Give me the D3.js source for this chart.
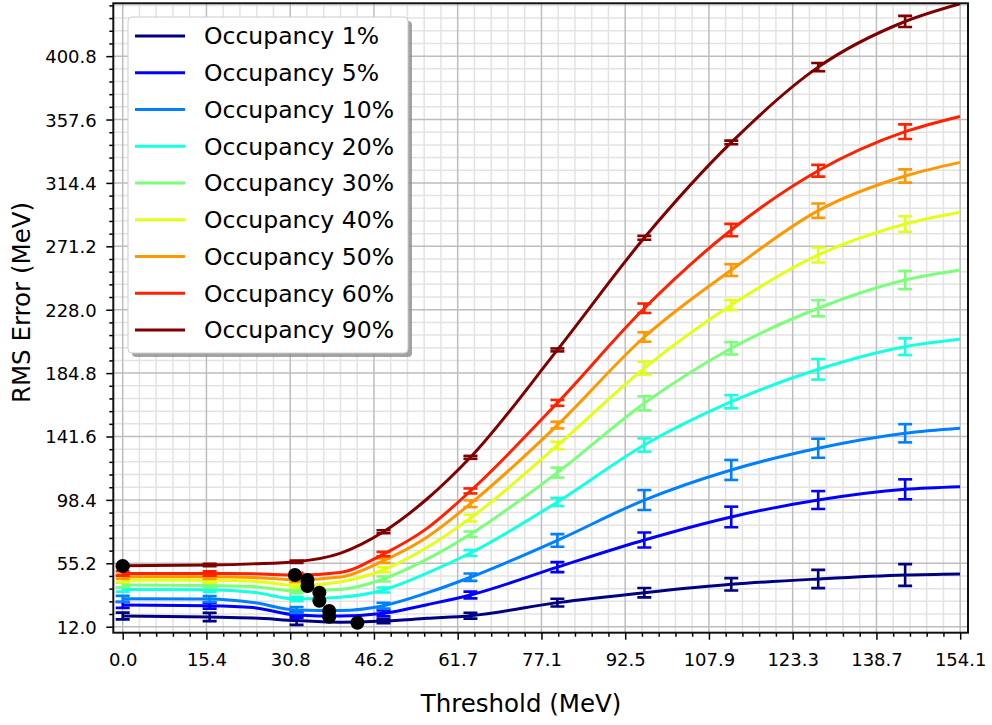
<!DOCTYPE html>
<html>
<head>
<meta charset="utf-8">
<script src="https://cdn.jsdelivr.net/npm/d3@7"></script>
<style>
body { margin: 0; background: #fff; }
text { font-family: "DejaVu Sans", sans-serif; fill: #000; }
</style>
</head>
<body>
<div id="chart"></div>
<script>
var thresholds = [0, 16, 24, 32, 40, 48, 56, 64, 80, 96, 112, 128, 144, 154.1];
var occupancies = ["1%", "5%", "10%", "20%", "30%", "40%", "50%", "60%", "90%"];

var rms1  = [19.3, 18.6, 17.9, 16.2, 15.0, 15.8, 17.7, 19.5, 28.4, 35.2, 40.9, 44.5, 47.2, 47.9];
var rms5  = [26.8, 26.3, 25.0, 20.0, 19.2, 21.1, 27.0, 33.6, 52.6, 71.1, 86.8, 98.3, 105.6, 107.4];
var rms10 = [31.0, 30.8, 28.5, 23.4, 23.0, 26.3, 35.0, 45.7, 70.8, 98.3, 118.8, 133.6, 143.8, 147.2];
var rms20 = [37.4, 37.2, 35.5, 30.8, 32.0, 37.0, 48.5, 62.2, 97.0, 135.8, 165.3, 187.4, 202.8, 207.8];
var rms30 = [40.4, 40.1, 39.3, 36.3, 37.3, 44.5, 58.0, 75.0, 117.0, 164.2, 201.7, 229.0, 248.2, 255.0];
var rms40 = [43.8, 43.6, 43.0, 40.0, 42.5, 50.8, 66.0, 86.0, 135.5, 188.2, 231.2, 265.3, 286.4, 294.4];
var rms50 = [46.1, 46.0, 45.6, 44.0, 45.8, 57.0, 73.0, 95.8, 149.4, 209.4, 255.0, 295.5, 319.1, 328.4];
var rms60 = [48.3, 48.2, 48.0, 47.2, 49.0, 61.5, 79.0, 104.5, 164.5, 229.0, 282.3, 322.7, 349.3, 359.7];
var rms90 = [53.5, 54.0, 54.8, 56.3, 62.0, 76.7, 99.0, 127.4, 200.6, 277.0, 342.0, 393.3, 424.4, 436.5];

// error bars every 16 MeV
var errThresholds = [0, 16, 32, 48, 64, 80, 96, 112, 128, 144];
var err1  = [2.3, 2.8, 3.0, 1.5, 2.0, 2.6, 3.2, 4.2, 6.2, 7.4];
var err5  = [2.0, 2.0, 2.0, 2.0, 2.3, 3.4, 5.1, 7.0, 6.1, 6.8];
var err10 = [2.0, 2.0, 2.0, 2.0, 2.5, 4.3, 6.8, 6.8, 6.5, 6.2];
var err20 = [1.5, 1.5, 1.5, 1.7, 2.0, 2.8, 4.5, 4.5, 7.0, 5.7];
var err30 = [1.5, 1.5, 1.5, 1.7, 1.9, 3.4, 4.8, 4.2, 5.5, 6.2];
var err40 = [1.5, 1.5, 1.5, 1.7, 2.3, 2.5, 4.4, 3.4, 5.1, 5.3];
var err50 = [1.5, 1.5, 1.5, 1.5, 2.3, 2.3, 3.2, 4.0, 4.9, 4.5];
var err60 = [1.5, 1.5, 1.5, 1.5, 1.7, 2.0, 3.2, 4.2, 4.0, 5.0];
var err90 = [0.8, 0.8, 0.8, 1.0, 1.0, 1.0, 1.3, 1.2, 2.8, 3.8];

// minimum of each curve
var minThreshold = [43.2, 38.0, 38.0, 36.2, 36.2, 34.0, 34.0, 31.7, 0.0];
var minRms = [14.7, 18.8, 22.7, 29.7, 35.2, 39.7, 43.8, 47.2, 53.4];

var xTicks = [0, 15.41, 30.83, 46.24, 61.65, 77.07, 92.48, 107.89, 123.3, 138.72, 154.13];
var xTickLabels = ["0.0", "15.4", "30.8", "46.2", "61.7", "77.1", "92.5", "107.9", "123.3", "138.7", "154.1"];
var yTicks = [12.0, 55.2, 98.4, 141.6, 184.8, 228.0, 271.2, 314.4, 357.6, 400.8];
var yTickLabels = ["12.0", "55.2", "98.4", "141.6", "184.8", "228.0", "271.2", "314.4", "357.6", "400.8"];

var rmsSeries = [rms1, rms5, rms10, rms20, rms30, rms40, rms50, rms60, rms90];
var errSeries = [err1, err5, err10, err20, err30, err40, err50, err60, err90];

var width = 992, height = 725;
var pLeft = 113.3, pRight = 968, pTop = 3.3, pBottom = 632.7;

var svg = d3.select("#chart").append("svg")
    .attr("width", width).attr("height", height);

var x = d3.scaleLinear().domain([-1.73, 155.57]).range([pLeft, pRight]);
var y = d3.scaleLinear().domain([7.9, 436.8]).range([pBottom, pTop]);

// matplotlib jet colormap
var jetR = d3.scaleLinear().domain([0, 0.35, 0.66, 0.89, 1]).range([0, 0, 1, 1, 0.5]);
var jetG = d3.scaleLinear().domain([0, 0.125, 0.375, 0.64, 0.91, 1]).range([0, 0, 1, 1, 0, 0]);
var jetB = d3.scaleLinear().domain([0, 0.11, 0.34, 0.65, 1]).range([0.5, 1, 1, 0, 0]);
function jet(t) {
  return d3.rgb(jetR(t) * 255, jetG(t) * 255, jetB(t) * 255).formatHex();
}
var colors = occupancies.map(function(d, i) { return jet(i / (occupancies.length - 1)); });

// minor tick positions
var xMinor = [];
for (var i = 0; i < xTicks.length - 1; i++) {
  var step = (xTicks[i + 1] - xTicks[i]) / 5;
  for (var k = 1; k < 5; k++) xMinor.push(xTicks[i] + k * step);
}
var yStep = (yTicks[1] - yTicks[0]) / 5;
var yMinor = d3.range(yTicks[0], 436.8, yStep).filter(function(v, k) { return k % 5 != 0; });

svg.append("clipPath").attr("id", "plotclip").append("rect")
    .attr("x", pLeft).attr("y", pTop).attr("width", pRight - pLeft).attr("height", pBottom - pTop);

var grid = svg.append("g").attr("clip-path", "url(#plotclip)");
grid.selectAll(".vminor").data(xMinor).enter().append("line")
    .attr("x1", x).attr("x2", x).attr("y1", pTop).attr("y2", pBottom)
    .attr("stroke", "#e3e3e3").attr("stroke-width", 1.5);
grid.selectAll(".hminor").data(yMinor).enter().append("line")
    .attr("y1", y).attr("y2", y).attr("x1", pLeft).attr("x2", pRight)
    .attr("stroke", "#e3e3e3").attr("stroke-width", 1.5);
grid.selectAll(".vmajor").data(xTicks).enter().append("line")
    .attr("x1", x).attr("x2", x).attr("y1", pTop).attr("y2", pBottom)
    .attr("stroke", "#bdbdbd").attr("stroke-width", 1.5);
grid.selectAll(".hmajor").data(yTicks).enter().append("line")
    .attr("y1", y).attr("y2", y).attr("x1", pLeft).attr("x2", pRight)
    .attr("stroke", "#bdbdbd").attr("stroke-width", 1.5);

var line = d3.line()
    .x(function(d) { return x(d[0]); })
    .y(function(d) { return y(d[1]); })
    .curve(d3.curveMonotoneX);

var plot = svg.append("g").attr("clip-path", "url(#plotclip)");
rmsSeries.forEach(function(rms, s) {
  var pts = thresholds.map(function(t, i) { return [t, rms[i]]; });
  var g = plot.append("g");
  g.append("path").datum(pts)
      .attr("d", line)
      .attr("fill", "none")
      .attr("stroke", colors[s])
      .attr("stroke-width", 3);

  var bars = errThresholds.map(function(t, j) {
    return { t: t, v: rms[thresholds.indexOf(t)], e: errSeries[s][j] };
  });
  var eb = g.selectAll(".eb").data(bars).enter().append("g")
      .attr("stroke", colors[s]).attr("stroke-width", 2.6);
  eb.append("line")
      .attr("x1", function(d) { return x(d.t); }).attr("x2", function(d) { return x(d.t); })
      .attr("y1", function(d) { return y(d.v - d.e); }).attr("y2", function(d) { return y(d.v + d.e); });
  eb.append("line")
      .attr("x1", function(d) { return x(d.t) - 7; }).attr("x2", function(d) { return x(d.t) + 7; })
      .attr("y1", function(d) { return y(d.v - d.e); }).attr("y2", function(d) { return y(d.v - d.e); });
  eb.append("line")
      .attr("x1", function(d) { return x(d.t) - 7; }).attr("x2", function(d) { return x(d.t) + 7; })
      .attr("y1", function(d) { return y(d.v + d.e); }).attr("y2", function(d) { return y(d.v + d.e); });
});

plot.selectAll(".minpt").data(minRms).enter().append("circle")
    .attr("cx", function(d, i) { return x(minThreshold[i]); })
    .attr("cy", function(d) { return y(d); })
    .attr("r", 7)
    .attr("fill", "#000");

// axes
var xAxis = svg.append("g").attr("transform", "translate(0," + pBottom + ")")
    .call(d3.axisBottom(x).tickValues(xTicks).tickSize(7).tickSizeOuter(0)
      .tickFormat(function(d, i) { return xTickLabels[i]; }));
xAxis.append("g").call(d3.axisBottom(x).tickValues(xMinor).tickSize(4).tickFormat(""));
var yAxis = svg.append("g").attr("transform", "translate(" + pLeft + ",0)")
    .call(d3.axisLeft(y).tickValues(yTicks).tickSize(7).tickSizeOuter(0)
      .tickFormat(function(d, i) { return yTickLabels[i]; }));
yAxis.append("g").call(d3.axisLeft(y).tickValues(yMinor).tickSize(4).tickFormat(""));

svg.selectAll(".domain").remove();
svg.selectAll(".tick line").attr("stroke", "#000").attr("stroke-width", 1.5);
xAxis.selectAll("text").attr("y", 0).attr("dy", 0).attr("transform", "translate(0,33)")
    .style("font-size", "18px").style("font-family", "'DejaVu Sans'").attr("fill", "#222");
yAxis.selectAll("text").attr("x", -16.6).attr("dy", "0.36em")
    .style("font-size", "18px").style("font-family", "'DejaVu Sans'").attr("fill", "#222");

svg.append("rect")
    .attr("x", pLeft).attr("y", pTop).attr("width", pRight - pLeft).attr("height", pBottom - pTop)
    .attr("fill", "none").attr("stroke", "#111").attr("stroke-width", 2);

svg.append("text")
    .attr("x", 521).attr("y", 712)
    .attr("text-anchor", "middle")
    .style("font-size", "24.5px")
    .text("Threshold (MeV)");
svg.append("text")
    .attr("transform", "translate(30,302.5) rotate(-90)")
    .attr("text-anchor", "middle")
    .style("font-size", "24.5px")
    .text("RMS Error (MeV)");

// legend
var legend = svg.append("g");
legend.append("rect")
    .attr("x", 132).attr("y", 21).attr("width", 280).attr("height", 336)
    .attr("rx", 4).attr("fill", "#8c8c8c").attr("opacity", 0.8);
legend.append("rect")
    .attr("x", 128).attr("y", 17).attr("width", 280).attr("height", 336)
    .attr("rx", 4).attr("fill", "#fff").attr("stroke", "#cccccc").attr("stroke-width", 1);
var item = legend.selectAll(".item").data(occupancies).enter().append("g")
    .attr("transform", function(d, i) { return "translate(0," + (36 + i * 36.75) + ")"; });
item.append("line")
    .attr("x1", 135).attr("x2", 185)
    .attr("stroke", function(d, i) { return colors[i]; })
    .attr("stroke-width", 3);
item.append("text")
    .attr("x", 204).attr("y", 8.3)
    .style("font-size", "23.5px")
    .attr("fill", "#111")
    .text(function(d) { return "Occupancy " + d; });
</script>
</body>
</html>
